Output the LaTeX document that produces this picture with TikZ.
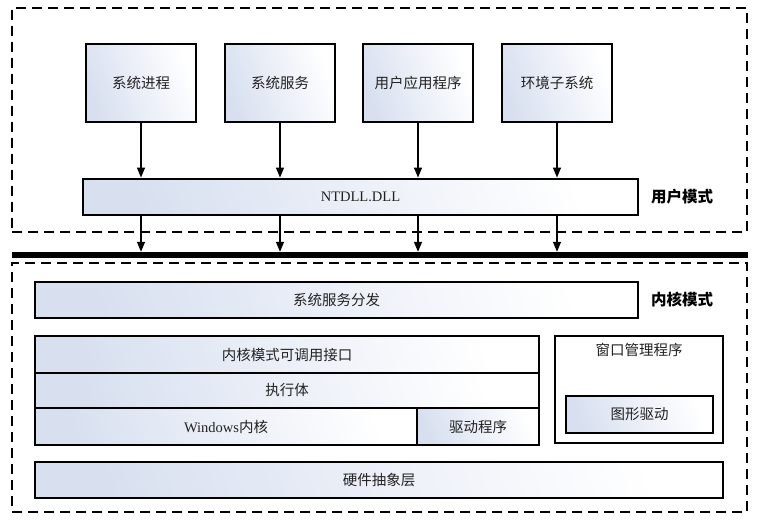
\documentclass[tikz,border=0pt]{standalone}
\usepackage{fontspec}
\setmainfont{Liberation Serif}
\newfontfamily\cjk{Noto Sans CJK SC}
\usetikzlibrary{arrows.meta}
\definecolor{boxblue}{HTML}{D8E0F0}
\definecolor{txt}{HTML}{222222}
\begin{document}
\begin{tikzpicture}[x=1pt,y=-1pt,
  box/.style={draw=black, line width=2.9pt, inner sep=0pt, left color=boxblue, right color=white, shading angle=110,
    font=\fontsize{14.5}{16}\selectfont, text=txt},
  plainbox/.style={draw=black, line width=2.9pt, inner sep=0pt, fill=white},
  zone/.style={draw=black, line width=1.5pt, dash pattern=on 10pt off 6pt, inner sep=0pt},
  modelbl/.style={font=\cjk\bfseries\fontsize{15.5}{17}\selectfont, text=black},
  arr/.style={line width=1.4pt, -{Triangle[width=8pt,length=10pt]}}]
\useasboundingbox (0,0) rectangle (760,526);
% zones
\node[zone, minimum width=735pt, minimum height=224pt] (user) at (379.5,120) {};
\node[zone, minimum width=735pt, minimum height=249pt] (kern) at (379.5,387.5) {};
\node[fill=black, inner sep=0pt, minimum width=736pt, minimum height=6pt] (bar) at (380,255) {};
% user mode
\node[box, minimum width=110pt, minimum height=78pt] (p1) at (141,83) {\cjk 系统进程};
\node[box, minimum width=110pt, minimum height=78pt] (p2) at (280,83) {\cjk 系统服务};
\node[box, minimum width=110pt, minimum height=78pt] (p3) at (418,83) {\cjk 用户应用程序};
\node[box, minimum width=110pt, minimum height=78pt] (p4) at (557,83) {\cjk 环境子系统};
\node[box, minimum width=555pt, minimum height=36pt] (dll) at (360.5,197) {NTDLL.DLL};
\node[modelbl] (ulbl) at (682,197) {用户模式};
\foreach \p in {p1,p2,p3,p4}{
  \draw[arr] (\p.south) -- (\p.south |- dll.north);
  \draw[arr] (\p.south |- dll.south) -- (\p.south |- bar.north);
}
% kernel mode
\node[box, minimum width=603pt, minimum height=36pt] (disp) at (336.5,300) {\cjk 系统服务分发};
\node[modelbl] (klbl) at (682,300) {内核模式};
\node[box, minimum width=504pt, minimum height=37pt] (kci) at (287,354.5) {\cjk 内核模式可调用接口};
\node[box, minimum width=504pt, minimum height=35pt] (exec) at (287,390.5) {\cjk 执行体};
\node[box, minimum width=382pt, minimum height=37pt] (wink) at (226,426.5) {Windows\cjk 内核};
\node[box, minimum width=122pt, minimum height=37pt] (drv) at (478,426.5) {\cjk 驱动程序};
\node[plainbox, minimum width=168pt, minimum height=107pt] (wm) at (639,389.5) {};
\node[font=\cjk\fontsize{14.5}{16}\selectfont, text=txt] (wmt) at (639,350) {窗口管理程序};
\node[box, minimum width=147pt, minimum height=37pt] (gfx) at (639.5,414.5) {\cjk 图形驱动};
\node[box, minimum width=688pt, minimum height=36pt] (hal) at (379,480) {\cjk 硬件抽象层};
\end{tikzpicture}
\end{document}
